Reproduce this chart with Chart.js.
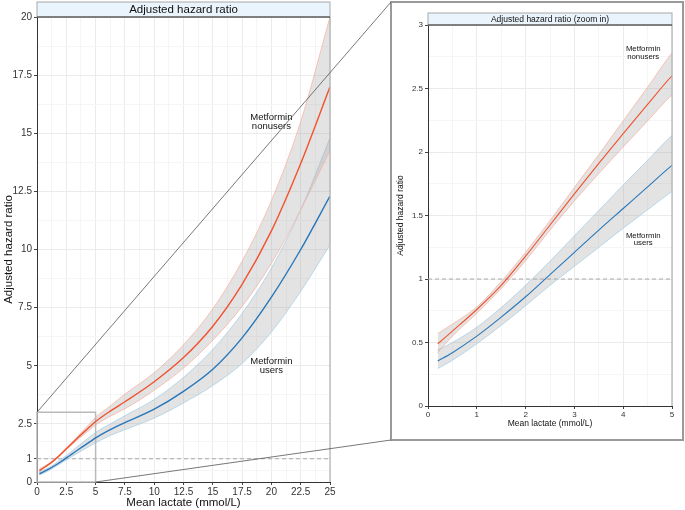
<html>
<head>
<script src="https://cdn.jsdelivr.net/npm/chart.js@4/dist/chart.umd.min.js"></script>
<style>
body { margin: 0; background: #fff; }
#wrap { position: relative; width: 685px; height: 510px; }
#mainBox { position: absolute; left: 0; top: 0; width: 685px; height: 510px; }
#zoomBox { position: absolute; left: 391px; top: 2px; width: 292px; height: 438px; }
</style>
</head>
<body>
<div id="wrap">
  <div id="mainBox"><canvas id="mainChart"></canvas></div>
  <div id="zoomBox"><canvas id="zoomChart"></canvas></div>
</div>
<script>
// mean lactate (mmol/L)
const lactate       = [0.2, 0.5, 1, 1.5, 2, 2.5, 3, 3.5, 4, 4.5, 5, 6.25, 7.5, 10, 12.5, 15, 17.5, 20, 22.5, 25];
// metformin nonusers
const nonusersHR    = [0.49, 0.59, 0.76, 0.95, 1.18, 1.425, 1.67, 1.91, 2.145, 2.375, 2.60, 3.05, 3.45, 4.31, 5.35, 6.70, 8.50, 10.8, 13.7, 17.0];
const nonusersUpper = [0.57, 0.645, 0.78, 0.98, 1.21, 1.46, 1.72, 1.98, 2.245, 2.51, 2.78, 3.27, 3.78, 4.70, 5.90, 7.45, 9.50, 12.1, 15.5, 20.0];
const nonusersLower = [0.42, 0.55, 0.73, 0.925, 1.145, 1.385, 1.615, 1.83, 2.04, 2.245, 2.45, 2.83, 3.15, 3.95, 4.90, 6.10, 7.55, 9.40, 11.7, 14.25];
// metformin users
const usersHR       = [0.355, 0.42, 0.55, 0.70, 0.86, 1.035, 1.21, 1.385, 1.555, 1.725, 1.895, 2.25, 2.55, 3.13, 3.90, 4.85, 6.20, 7.95, 10.0, 12.3];
const usersUpper    = [0.44, 0.50, 0.62, 0.775, 0.95, 1.14, 1.34, 1.54, 1.74, 1.935, 2.13, 2.50, 2.85, 3.55, 4.50, 5.70, 7.25, 9.20, 11.7, 14.8];
const usersLower    = [0.295, 0.36, 0.49, 0.635, 0.79, 0.95, 1.10, 1.25, 1.40, 1.545, 1.69, 2.00, 2.25, 2.75, 3.40, 4.15, 5.10, 6.45, 8.20, 10.2];

const mainXTicks = [0, 2.5, 5, 7.5, 10, 12.5, 15, 17.5, 20, 22.5, 25];
const mainXMinor = [1.25, 3.75, 6.25, 8.75, 11.25, 13.75, 16.25, 18.75, 21.25, 23.75];
const mainYTicks = [0, 1, 2.5, 5, 7.5, 10, 12.5, 15, 17.5, 20];
const mainYMinor = [0.5, 1.75, 3.75, 6.25, 8.75, 11.25, 13.75, 16.25, 18.75];
const zoomXTicks = [0, 1, 2, 3, 4, 5];
const zoomXMinor = [0.5, 1.5, 2.5, 3.5, 4.5];
const zoomYTicks = [0, 0.5, 1, 1.5, 2, 2.5, 3];
const zoomYMinor = [0.25, 0.75, 1.25, 1.75, 2.25, 2.75];

const redLine = '#f2522e', redEdge = '#f7b5a6';
const blueLine = '#2677bb', blueEdge = '#a8cfe6';
const bandFill = 'rgba(170,170,170,0.33)';
const FONT = "'Liberation Sans', Arial, sans-serif";

Chart.defaults.font.family = FONT;
Chart.defaults.animation = false;

function pts(arr) {
    return lactate.map((x, k) => ({x: x, y: arr[k]}));
}

function makeDatasets(lw) {
    const base = {pointRadius: 0, cubicInterpolationMode: 'monotone', fill: false};
    return [
        Object.assign({}, base, {data: pts(nonusersHR), borderColor: redLine, borderWidth: lw}),
        Object.assign({}, base, {data: pts(usersHR), borderColor: blueLine, borderWidth: lw}),
        Object.assign({}, base, {data: pts(nonusersUpper), borderColor: redEdge, borderWidth: 0.8}),
        Object.assign({}, base, {data: pts(nonusersLower), borderColor: redEdge, borderWidth: 0.8, fill: '-1', backgroundColor: bandFill}),
        Object.assign({}, base, {data: pts(usersUpper), borderColor: blueEdge, borderWidth: 0.8}),
        Object.assign({}, base, {data: pts(usersLower), borderColor: blueEdge, borderWidth: 0.8, fill: '-1', backgroundColor: bandFill})
    ];
}

function makeScale(major, minor, min, max, tickSize, tickPad, title, titleSize, titlePad, fitSize, horizontal) {
    const isMajor = (v) => major.includes(v);
    return {
        type: 'linear', min: min, max: max,
        afterBuildTicks: (s) => {
            s.ticks = major.concat(minor).sort((a, b) => a - b).map(v => ({value: v}));
        },
        afterFit: (s) => {
            if (horizontal) s.height = fitSize; else s.width = fitSize;
        },
        ticks: {
            autoSkip: false, maxRotation: 0, color: '#333', padding: tickPad,
            font: {size: tickSize},
            callback: (v) => isMajor(v) ? String(v) : ''
        },
        grid: {
            color: (c) => (c.tick && isMajor(c.tick.value)) ? '#ebebeb' : '#f5f5f5',
            tickColor: (c) => (c.tick && isMajor(c.tick.value)) ? '#444' : 'rgba(0,0,0,0)',
            tickLength: 3, lineWidth: 1
        },
        border: {color: '#333', width: 1},
        title: {display: true, text: title, color: '#111', font: {size: titleSize}, padding: titlePad}
    };
}

const panelDecor = {
    id: 'panelDecor',
    beforeDatasetsDraw(chart, args, o) {
        const {ctx, chartArea: a, scales: {x, y}} = chart;
        ctx.save();
        ctx.strokeStyle = '#a8a8a8';
        ctx.lineWidth = 1;
        ctx.setLineDash([4, 3]);
        ctx.beginPath();
        ctx.moveTo(a.left, y.getPixelForValue(1));
        ctx.lineTo(a.right, y.getPixelForValue(1));
        ctx.stroke();
        ctx.setLineDash([]);
        if (o.zoomRange) {
            const x0 = x.getPixelForValue(0), x1 = x.getPixelForValue(o.zoomRange.x);
            const y0 = y.getPixelForValue(0), y1 = y.getPixelForValue(o.zoomRange.y);
            ctx.strokeStyle = '#b9b9b9';
            ctx.lineWidth = 1.5;
            ctx.strokeRect(x0, y1, x1 - x0, y0 - y1);
        }
        ctx.restore();
    },
    afterDraw(chart, args, o) {
        const {ctx, chartArea: a, scales: {x, y}} = chart;
        ctx.save();
        // right border of panel
        ctx.strokeStyle = '#b0b0b0';
        ctx.lineWidth = 1.2;
        ctx.beginPath();
        ctx.moveTo(a.right, a.top);
        ctx.lineTo(a.right, a.bottom);
        ctx.stroke();
        // strip
        ctx.fillStyle = '#eaf4fc';
        ctx.fillRect(a.left, o.stripTop, a.width, a.top - o.stripTop);
        ctx.strokeStyle = '#a8a8a8';
        ctx.lineWidth = 1;
        ctx.strokeRect(a.left, o.stripTop, a.width, a.top - o.stripTop);
        ctx.strokeStyle = '#333';
        ctx.beginPath();
        ctx.moveTo(a.left, a.top);
        ctx.lineTo(a.right, a.top);
        ctx.stroke();
        ctx.fillStyle = '#111';
        ctx.font = o.stripSize + 'px ' + FONT;
        ctx.textAlign = 'center';
        ctx.textBaseline = 'middle';
        ctx.fillText(o.strip, (a.left + a.right) / 2, (o.stripTop + a.top) / 2 + 0.5);
        // curve labels
        ctx.font = o.labelSize + 'px ' + FONT;
        o.labels.forEach(l => {
            const px = x.getPixelForValue(l.x), py = y.getPixelForValue(l.y);
            const lh = o.labelSize * 0.95;
            l.text.forEach((t, k) => {
                ctx.fillText(t, px, py + (k - (l.text.length - 1) / 2) * lh);
            });
        });
        // links to the zoom panel
        if (o.zoomRange) {
            const box = document.getElementById('zoomBox');
            const bx = box.offsetLeft, by = box.offsetTop, bw = box.offsetWidth, bh = box.offsetHeight;
            ctx.strokeStyle = '#9a9a9a';
            ctx.lineWidth = 2;
            ctx.strokeRect(bx, by, bw, bh);
            ctx.strokeStyle = '#555';
            ctx.lineWidth = 0.8;
            ctx.beginPath();
            ctx.moveTo(x.getPixelForValue(0), y.getPixelForValue(o.zoomRange.y));
            ctx.lineTo(bx, by);
            ctx.moveTo(x.getPixelForValue(o.zoomRange.x), y.getPixelForValue(0));
            ctx.lineTo(bx, by + bh);
            ctx.stroke();
        }
        ctx.restore();
    }
};

const mainChart = new Chart(document.getElementById('mainChart'), {
    type: 'line',
    data: {datasets: makeDatasets(1.4)},
    plugins: [panelDecor],
    options: {
        responsive: true, maintainAspectRatio: false,
        layout: {padding: {top: 17, right: 355, left: 0, bottom: 0}},
        plugins: {
            legend: {display: false}, tooltip: {enabled: false},
            panelDecor: {
                strip: 'Adjusted hazard ratio', stripTop: 2, stripSize: 11.5, labelSize: 9.5,
                zoomRange: {x: 5, y: 3},
                labels: [
                    {text: ['Metformin', 'nonusers'], x: 20, y: 15.5},
                    {text: ['Metformin', 'users'], x: 20, y: 5.0}
                ]
            }
        },
        scales: {
            x: makeScale(mainXTicks, mainXMinor, 0, 25, 10, 1, 'Mean lactate (mmol/L)', 11.5, {top: 0, bottom: 0}, 28, true),
            y: makeScale(mainYTicks, mainYMinor, 0, 20, 10, 2, 'Adjusted hazard ratio', 11.5, {top: 2, bottom: 0}, 37, false)
        }
    }
});

const zoomChart = new Chart(document.getElementById('zoomChart'), {
    type: 'line',
    data: {datasets: makeDatasets(1.1)},
    plugins: [panelDecor],
    options: {
        responsive: true, maintainAspectRatio: false,
        layout: {padding: {top: 23, right: 11, left: 0, bottom: 0}},
        plugins: {
            legend: {display: false}, tooltip: {enabled: false},
            panelDecor: {
                strip: 'Adjusted hazard ratio (zoom in)', stripTop: 11, stripSize: 8.5, labelSize: 7.8,
                labels: [
                    {text: ['Metformin', 'nonusers'], x: 4.41, y: 2.78},
                    {text: ['Metformin', 'users'], x: 4.41, y: 1.31}
                ]
            }
        },
        scales: {
            x: makeScale(zoomXTicks, zoomXMinor, 0, 5, 8, 1, 'Mean lactate (mmol/L)', 8.5, {top: 0, bottom: 11}, 34, true),
            y: makeScale(zoomYTicks, zoomYMinor, 0, 3, 8, 2, 'Adjusted hazard ratio', 8.5, {top: 5, bottom: 0}, 37, false)
        }
    }
});
</script>
</body>
</html>
